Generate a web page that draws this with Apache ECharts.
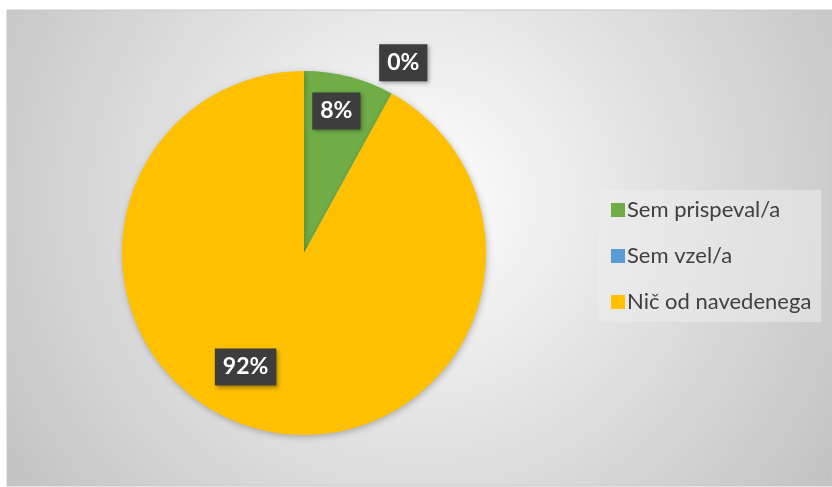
<!DOCTYPE html>
<html>
<head>
<meta charset="utf-8">
<script src="https://cdn.jsdelivr.net/npm/echarts@6/dist/echarts.min.js"></script>
<style>
html,body{margin:0;padding:0;background:#ffffff;}
#chart{width:832px;height:487px;}
</style>
</head>
<body>
<div id="chart"></div>
<script>
const categories = ['Sem prispeval/a', 'Sem vzel/a', 'Nič od navedenega'];
const values = [8, 0, 92];
const colors = ['#70AD47', '#5B9BD5', '#FFC000'];
const labelOffsets = [[9, -51], [54, -108], [-35, 23]];

const chart = echarts.init(document.getElementById('chart'));
const data = categories.map((name, i) => ({
  name: name,
  value: values[i],
  itemStyle: { color: colors[i] },
  label: { offset: labelOffsets[i] }
}));

chart.setOption({
  animation: false,
  graphic: [{
    type: 'rect',
    z: -10,
    shape: { x: 7, y: 10, width: 825, height: 476 },
    style: {
      fill: new echarts.graphic.RadialGradient(0.5, 0.4, 1.05, [
        { offset: 0, color: '#ffffff' },
        { offset: 1, color: '#c2c2c2' }
      ]),
      stroke: '#c8c8c8',
      lineWidth: 1
    }
  }],
  legend: {
    orient: 'vertical',
    left: 598,
    top: 190,
    padding: [9, 10, 9, 13],
    backgroundColor: 'rgba(236,236,236,0.55)',
    itemWidth: 14,
    itemHeight: 14,
    itemGap: 24,
    icon: 'rect',
    textStyle: {
      fontFamily: 'Lato',
      fontSize: 22,
      lineHeight: 22,
      color: '#404040',
      padding: [0, 0, 0, -3]
    },
    data: categories
  },
  series: [{
    type: 'pie',
    center: [304, 253],
    radius: 182,
    startAngle: 90,
    clockwise: true,
    avoidLabelOverlap: false,
    itemStyle: {
      borderWidth: 0,
      shadowBlur: 6,
      shadowColor: 'rgba(0,0,0,0.25)',
      shadowOffsetX: 1,
      shadowOffsetY: 2
    },
    emphasis: { disabled: true },
    label: {
      show: true,
      position: 'inside',
      formatter: p => Math.round(p.percent) + '%',
      fontFamily: 'Lato',
      fontWeight: 'bold',
      fontSize: 23,
      lineHeight: 24,
      color: '#ffffff',
      backgroundColor: '#3d3d3d',
      padding: [7, 8, 6, 8],
      shadowBlur: 4,
      shadowColor: 'rgba(0,0,0,0.35)',
      shadowOffsetX: 2,
      shadowOffsetY: 2
    },
    labelLine: { show: false },
    data: data
  }]
});
</script>
</body>
</html>
